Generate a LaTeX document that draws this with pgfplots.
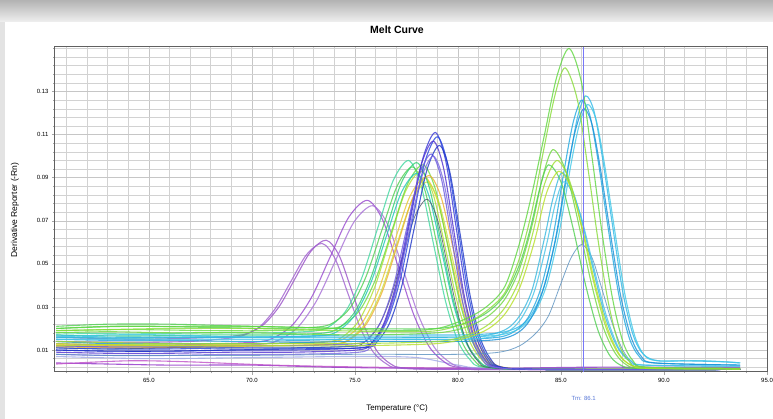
\documentclass[border=0pt]{standalone}
\usepackage{fontspec}
\setmainfont{Liberation Sans}
\usepackage{pgfplots}
\pgfplotsset{compat=1.18}
\definecolor{cA1}{HTML}{9A50C8}
\definecolor{cA2}{HTML}{A060D0}
\definecolor{cB1}{HTML}{9848D0}
\definecolor{cB2}{HTML}{A870D8}
\definecolor{cC1}{HTML}{40D8A0}
\definecolor{cC2}{HTML}{50D050}
\definecolor{cC3}{HTML}{B0E030}
\definecolor{cC4}{HTML}{E8C830}
\definecolor{cC5}{HTML}{68DC40}
\definecolor{cC6}{HTML}{20C8B8}
\definecolor{cC7}{HTML}{C8E040}
\definecolor{cC8}{HTML}{30D070}
\definecolor{cC9}{HTML}{F0B030}
\definecolor{cD1}{HTML}{3838D8}
\definecolor{cD2}{HTML}{2848E0}
\definecolor{cD3}{HTML}{5030D0}
\definecolor{cD4}{HTML}{6A58E0}
\definecolor{cD5}{HTML}{2038C8}
\definecolor{cD6}{HTML}{7A68E0}
\definecolor{cE}{HTML}{4A5568}
\definecolor{cF1}{HTML}{60D840}
\definecolor{cF2}{HTML}{88DC38}
\definecolor{cG1}{HTML}{70D840}
\definecolor{cG2}{HTML}{A0E030}
\definecolor{cG3}{HTML}{50D050}
\definecolor{cG4}{HTML}{B8E028}
\definecolor{cH1}{HTML}{30B8E8}
\definecolor{cH2}{HTML}{20A8E0}
\definecolor{cH3}{HTML}{40C8E8}
\definecolor{cH4}{HTML}{1890D8}
\definecolor{cI1}{HTML}{38B8E0}
\definecolor{cI2}{HTML}{48C4E8}
\definecolor{cJ}{HTML}{5890C0}
\definecolor{cP1}{HTML}{9030C8}
\definecolor{cP2}{HTML}{C050C8}
\definecolor{cL1}{HTML}{A0A8E8}
\definecolor{tmc}{HTML}{7878F8}
\definecolor{tmt}{HTML}{5878D8}
\begin{document}
\begin{tikzpicture}
\useasboundingbox (-55pt,-47pt) rectangle (718pt,372pt);
\clip (-55pt,-47pt) rectangle (718pt,372pt);
\fill[gray!22] (-55pt,-47pt) rectangle (718pt,372pt);
\shade[top color=gray!60, bottom color=gray!12] (-55pt,350pt) rectangle (718pt,372pt);
\fill[white] (-50pt,-47pt) rectangle (718pt,350pt);
\begin{axis}[
  scale only axis, width=712pt, height=325pt,
  xmin=60.44, xmax=95, ymin=-0.0002, ymax=0.1507,
  xtick={65,70,75,80,85,90,95},
  minor xtick={61,62,63,64,66,67,68,69,71,72,73,74,76,77,78,79,81,82,83,84,86,87,88,89,91,92,93,94},
  ytick={0.01,0.03,0.05,0.07,0.09,0.11,0.13},
  minor ytick={0.002,0.006,0.014,0.018,0.022,0.026,0.034,0.038,0.042,0.046,0.054,0.058,0.062,0.066,0.074,0.078,0.082,0.086,0.094,0.098,0.102,0.106,0.114,0.118,0.122,0.126,0.134,0.138,0.142,0.146,0.150},
  grid=both,
  major grid style={gray!45, line width=0.6pt},
  minor grid style={gray!35, line width=0.6pt},
  tick align=outside, xtick pos=bottom, ytick pos=left,
  major tick length=3pt, minor tick length=1.5pt,
  tick style={gray!70, line width=0.5pt},
  axis line style={gray!75!black, line width=1pt},
  scaled y ticks=false,
  /pgf/number format/assume math mode=true,
  xticklabel style={font=\fontsize{6}{7}\selectfont, /pgf/number format/.cd, fixed, fixed zerofill, precision=1},
  yticklabel style={font=\fontsize{6}{7}\selectfont, /pgf/number format/.cd, fixed, fixed zerofill, precision=2},
  every axis plot/.append style={smooth, mark=none, line width=1.1pt, opacity=0.8},
]
% flat bottom lines
\addplot[cP1] coordinates {(60.5,.004)(63,.0035)(66,.003)(70,.003)(74,.002)(78,.0015)(82,.0015)(86,.002)(90,.002)(93.7,.002)};
\addplot[cP2] coordinates {(60.5,.0035)(64,.005)(67,.0045)(71,.003)(76,.002)(82,.0015)(88,.0015)(93.7,.0015)};
\addplot[cL1] coordinates {(60.5,.007)(65,.006)(70,.0065)(75,.007)(78,.0065)(80,.003)(82,.0015)(93.7,.0015)};
% group A
\addplot[cA1] coordinates {(60.5,.016)(64,.015)(67,.0155)(69.1,.0165)(69.85,.018)(70.6,.0221)(71.35,.0306)(72.1,.0433)(72.85,.0557)(73.6,.061)(74.225,.054)(74.85,.0374)(75.475,.0205)(76.1,.0091)(76.725,.0036)(77.35,.0017)(80,.001)(93.7,.001)};
\addplot[cA2] coordinates {(60.5,.014)(64,.0135)(67,.014)(68.9,.0155)(69.65,.017)(70.4,.021)(71.15,.0295)(71.9,.042)(72.65,.0543)(73.4,.0595)(74.025,.0526)(74.65,.0365)(75.275,.020)(75.9,.0089)(76.525,.0036)(77.15,.0016)(80,.001)(93.7,.001)};
% group B
\addplot[cB1] coordinates {(60.5,.013)(64,.012)(67,.0125)(70.2,.0137)(71.1,.0159)(72.0,.022)(72.9,.0346)(73.8,.0533)(74.7,.0717)(75.6,.0795)(76.35,.0703)(77.1,.0486)(77.85,.0265)(78.6,.0116)(79.35,.0044)(80.1,.0019)(83,.001)(93.7,.001)};
\addplot[cB2] coordinates {(60.5,.012)(64,.011)(67,.0115)(70.45,.0127)(71.35,.0149)(72.25,.0208)(73.15,.0331)(74.05,.0514)(74.95,.0694)(75.85,.077)(76.6,.0681)(77.35,.0471)(78.1,.0257)(78.85,.0113)(79.6,.0043)(80.35,.0018)(83,.001)(93.7,.001)};
% group C
\addplot[cC1] coordinates {(60.5,.018)(64,.0175)(68,.018)(71,.018)(73.1,.0189)(73.85,.0215)(74.6,.0288)(75.35,.044)(76.1,.0665)(76.85,.0886)(77.6,.098)(78.2,.0866)(78.8,.0598)(79.4,.0325)(80.0,.0141)(80.6,.0053)(81.2,.0021)(84,.001)(93.7,.001)};
\addplot[cC2] coordinates {(60.5,.020)(64,.021)(68,.0205)(71,.020)(73.3,.0208)(74.05,.0233)(74.8,.0301)(75.55,.0444)(76.3,.0655)(77.05,.0862)(77.8,.095)(78.4,.084)(79.0,.058)(79.6,.0315)(80.2,.0137)(80.8,.0051)(81.4,.002)(84,.001)(93.7,.001)};
\addplot[cC3] coordinates {(60.5,.013)(64,.0125)(68,.013)(71,.013)(73.7,.0139)(74.45,.0165)(75.2,.0238)(75.95,.039)(76.7,.0615)(77.45,.0836)(78.2,.093)(78.8,.0822)(79.4,.0568)(80.0,.0309)(80.6,.0134)(81.2,.005)(81.8,.002)(84,.001)(93.7,.001)};
\addplot[cC4] coordinates {(60.5,.0125)(64,.012)(68,.0125)(71,.013)(73.9,.0139)(74.65,.0164)(75.4,.0234)(76.15,.038)(76.9,.0597)(77.65,.081)(78.4,.090)(79.0,.0795)(79.6,.055)(80.2,.0299)(80.8,.013)(81.4,.0049)(82.0,.002)(84,.001)(93.7,.001)};
\addplot[cC5] coordinates {(60.5,.019)(64,.0195)(68,.019)(71,.019)(73.8,.0199)(74.55,.0224)(75.3,.0294)(76.05,.044)(76.8,.0657)(77.55,.087)(78.3,.096)(78.9,.0848)(79.5,.0586)(80.1,.0318)(80.7,.0138)(81.3,.0052)(81.9,.002)(84,.001)(93.7,.001)};
\addplot[cC6] coordinates {(60.5,.016)(64,.0155)(68,.016)(71,.016)(73.5,.0168)(74.25,.0193)(75.0,.0263)(75.75,.0407)(76.5,.0621)(77.25,.0831)(78.0,.092)(78.6,.0813)(79.2,.0562)(79.8,.0305)(80.4,.0133)(81.0,.005)(81.6,.002)(84,.001)(93.7,.001)};
\addplot[cC7] coordinates {(60.5,.012)(64,.0115)(68,.012)(71,.012)(74.0,.0128)(74.75,.0153)(75.5,.0223)(76.25,.0367)(77.0,.0581)(77.75,.0791)(78.5,.088)(79.1,.0778)(79.7,.0538)(80.3,.0292)(80.9,.0127)(81.5,.0048)(82.1,.002)(84,.001)(93.7,.001)};
\addplot[cC8] coordinates {(60.5,.017)(64,.0165)(68,.017)(71,.017)(73.5,.0179)(74.25,.0205)(75.0,.0278)(75.75,.043)(76.5,.0655)(77.25,.0876)(78.0,.097)(78.6,.0857)(79.2,.0592)(79.8,.0322)(80.4,.014)(81.0,.0052)(81.6,.002)(84,.001)(93.7,.001)};
\addplot[cC9] coordinates {(60.5,.0115)(64,.011)(68,.0115)(71,.012)(74.1,.0129)(74.85,.0155)(75.6,.0227)(76.35,.0377)(77.1,.0599)(77.85,.0817)(78.6,.091)(79.2,.0804)(79.8,.0556)(80.4,.0302)(81.0,.0131)(81.6,.0049)(82.2,.002)(84,.001)(93.7,.001)};
% group E
\addplot[cE, line width=0.8pt] coordinates {(60.5,.011)(63,.0105)(66,.011)(69,.011)(72,.011)(74.9,.0118)(75.5,.014)(76.1,.0203)(76.7,.0334)(77.3,.0528)(77.9,.0719)(78.5,.080)(79.0,.0707)(79.5,.0489)(80.0,.0267)(80.5,.0117)(81.0,.0045)(81.5,.0019)(84,.001)(93.7,.001)};
% group D
\addplot[cD1] coordinates {(60.5,.010)(63,.0095)(66,.0095)(69,.010)(72,.010)(75.3,.0111)(75.9,.0144)(76.5,.0237)(77.1,.0428)(77.7,.0713)(78.3,.0991)(78.9,.111)(79.4,.0981)(79.9,.0677)(80.4,.0367)(80.9,.0159)(81.4,.0058)(81.9,.0022)(84,.001)(93.7,.001)};
\addplot[cD2] coordinates {(60.5,.011)(63,.0105)(66,.0105)(69,.011)(72,.011)(75.4,.0121)(76.0,.0153)(76.6,.0243)(77.2,.0428)(77.8,.0704)(78.4,.0975)(79.0,.109)(79.5,.0963)(80.0,.0665)(80.5,.0361)(81.0,.0156)(81.5,.0057)(82.0,.0022)(84,.001)(93.7,.001)};
\addplot[cD3] coordinates {(60.5,.009)(63,.0085)(66,.0085)(69,.009)(72,.009)(75.2,.0101)(75.8,.0133)(76.4,.0223)(77.0,.0408)(77.6,.0684)(78.2,.0955)(78.8,.107)(79.3,.0945)(79.8,.0653)(80.3,.0354)(80.8,.0153)(81.3,.0057)(81.8,.0022)(84,.001)(93.7,.001)};
\addplot[cD4] coordinates {(60.5,.012)(63,.0115)(66,.0115)(69,.012)(72,.012)(75.1,.013)(75.7,.0159)(76.3,.024)(76.9,.0409)(77.5,.066)(78.1,.0905)(78.7,.101)(79.2,.0893)(79.7,.0617)(80.2,.0335)(80.7,.0145)(81.2,.0054)(81.7,.0021)(84,.001)(93.7,.001)};
\addplot[cD5] coordinates {(60.5,.010)(63,.0095)(66,.0095)(69,.010)(72,.0105)(75.5,.0111)(76.1,.0142)(76.7,.0229)(77.3,.0408)(77.9,.0676)(78.5,.0938)(79.1,.105)(79.6,.0928)(80.1,.0641)(80.6,.0348)(81.1,.0151)(81.6,.0056)(82.1,.0021)(84,.001)(93.7,.001)};
\addplot[cD6] coordinates {(60.5,.008)(63,.0075)(66,.0075)(69,.008)(72,.008)(75.2,.009)(75.8,.012)(76.4,.0204)(77.0,.0379)(77.6,.0638)(78.2,.0892)(78.8,.100)(79.3,.0884)(79.8,.061)(80.3,.0332)(80.8,.0144)(81.3,.0053)(81.8,.0021)(84,.001)(93.7,.001)};
% group J
\addplot[cJ, line width=0.8pt] coordinates {(60.5,.008)(63,.0075)(66,.0075)(70,.0075)(75,.008)(80,.008)(82.0,.009)(83.0,.012)(83.8,.018)(84.4,.026)(85.0,.041)(85.5,.053)(86.0,.059)(86.5,.053)(87.0,.038)(87.5,.022)(88.0,.010)(88.5,.004)(89.2,.002)(93.7,.0015)};
% group H
\addplot[cH1] coordinates {(60.5,.017)(63,.016)(66,.016)(70,.016)(75,.017)(80,.017)(82,.018)(83.0,.021)(83.6,.027)(84.2,.040)(84.8,.064)(85.4,.097)(85.8,.118)(86.2,.128)(86.6,.121)(87.0,.100)(87.5,.068)(88.0,.037)(88.5,.017)(89.0,.008)(89.7,.005)(91,.005)(93.0,.0045)(93.7,.004)};
\addplot[cH2] coordinates {(60.5,.015)(63,.0145)(66,.0145)(70,.014)(75,.015)(80,.015)(82,.016)(82.8,.019)(83.4,.025)(84.0,.038)(84.6,.062)(85.2,.096)(85.6,.116)(86.0,.126)(86.4,.119)(86.8,.098)(87.3,.066)(87.8,.036)(88.3,.016)(88.8,.007)(89.5,.004)(93.7,.003)};
\addplot[cH3] coordinates {(60.5,.016)(63,.017)(66,.017)(70,.016)(75,.016)(80,.016)(82,.017)(83.0,.020)(83.7,.027)(84.3,.040)(84.9,.064)(85.5,.097)(85.9,.115)(86.3,.124)(86.7,.117)(87.1,.097)(87.6,.066)(88.1,.036)(88.6,.016)(89.1,.007)(89.8,.005)(92,.005)(93.7,.004)};
\addplot[cH4] coordinates {(60.5,.014)(63,.013)(66,.013)(70,.013)(75,.014)(80,.014)(82,.015)(82.9,.018)(83.5,.024)(84.1,.037)(84.7,.060)(85.3,.093)(85.7,.112)(86.1,.122)(86.5,.115)(86.9,.095)(87.4,.064)(87.9,.035)(88.4,.016)(88.9,.007)(89.6,.004)(93.7,.003)};
% group I
\addplot[cI1] coordinates {(60.5,.016)(63,.0155)(66,.016)(70,.016)(75,.016)(80,.016)(81.5,.017)(82.4,.020)(83.0,.026)(83.6,.038)(84.2,.062)(84.6,.080)(85.0,.092)(85.4,.088)(85.9,.074)(86.5,.050)(87.1,.027)(87.7,.012)(88.3,.005)(89.0,.003)(93.7,.0025)};
\addplot[cI2] coordinates {(60.5,.015)(63,.015)(66,.015)(70,.015)(75,.015)(80,.015)(81.6,.016)(82.5,.019)(83.1,.025)(83.7,.037)(84.3,.059)(84.7,.077)(85.1,.088)(85.5,.084)(86.0,.071)(86.6,.048)(87.2,.026)(87.8,.011)(88.4,.005)(89.1,.003)(93.7,.0025)};
% group G
\addplot[cG1] coordinates {(60.5,.018)(63,.0185)(66,.018)(70,.018)(75,.017)(79,.018)(80.5,.021)(81.5,.026)(82.3,.034)(83.0,.048)(83.6,.068)(84.1,.090)(84.6,.103)(85.2,.094)(85.8,.071)(86.4,.044)(87.0,.022)(87.6,.009)(88.2,.003)(89.0,.0015)(93.7,.0012)};
\addplot[cG2] coordinates {(60.5,.014)(63,.0135)(66,.013)(70,.013)(75,.013)(79,.014)(80.5,.017)(81.5,.022)(82.3,.030)(83.0,.043)(83.6,.063)(84.2,.087)(84.8,.098)(85.4,.089)(86.0,.067)(86.6,.041)(87.2,.020)(87.8,.008)(88.4,.003)(89.2,.0015)(93.7,.0012)};
\addplot[cG3] coordinates {(60.5,.021)(63,.022)(66,.022)(70,.021)(75,.020)(79,.020)(80.5,.023)(81.5,.028)(82.3,.036)(83.0,.050)(83.5,.066)(84.0,.086)(84.4,.096)(85.0,.088)(85.6,.066)(86.2,.040)(86.8,.019)(87.4,.007)(88.0,.0025)(88.8,.0015)(93.7,.0012)};
\addplot[cG4] coordinates {(60.5,.012)(63,.0125)(66,.012)(70,.012)(75,.012)(79,.013)(80.5,.016)(81.5,.020)(82.3,.027)(83.0,.039)(83.7,.060)(84.3,.083)(84.9,.093)(85.5,.085)(86.1,.064)(86.7,.039)(87.3,.019)(87.9,.007)(88.5,.0025)(89.3,.0015)(93.7,.0012)};
% group F
\addplot[cF1] coordinates {(60.5,.020)(63,.021)(66,.021)(70,.021)(74,.020)(77,.019)(79,.020)(80.5,.025)(81.5,.031)(82.3,.040)(83.0,.060)(83.6,.083)(84.2,.110)(84.8,.137)(85.4,.150)(86.0,.134)(86.5,.100)(87.0,.064)(87.5,.034)(88.0,.014)(88.5,.005)(89.2,.002)(93.7,.0015)};
\addplot[cF2] coordinates {(60.5,.019)(63,.0195)(66,.020)(70,.020)(74,.019)(77,.0185)(79,.019)(80.5,.023)(81.5,.029)(82.3,.037)(83.0,.053)(83.6,.075)(84.1,.100)(84.7,.128)(85.2,.141)(85.8,.126)(86.3,.095)(86.8,.061)(87.3,.032)(87.8,.013)(88.3,.005)(89.0,.002)(93.7,.0015)};
% Tm line
\addplot[tmc, line width=0.7pt, opacity=1, sharp plot] coordinates {(86.1,-0.0002)(86.1,0.1507)};
\coordinate (tm) at (axis cs:86.1,-0.0002);
\end{axis}
\node[text=tmt, font=\fontsize{6}{7}\selectfont] at ([yshift=-26pt]tm) {Tm: 86.1};
\node[font=\bfseries\fontsize{10.5}{12}\selectfont] at (342pt,342pt) {Melt Curve};
\node[font=\fontsize{8}{9}\selectfont] at (342pt,-36pt) {Temperature (°C)};
\node[font=\fontsize{8.5}{10}\selectfont, rotate=90] at (-40pt,162pt) {Derivative Reporter (-Rn)};
\end{tikzpicture}
\end{document}
